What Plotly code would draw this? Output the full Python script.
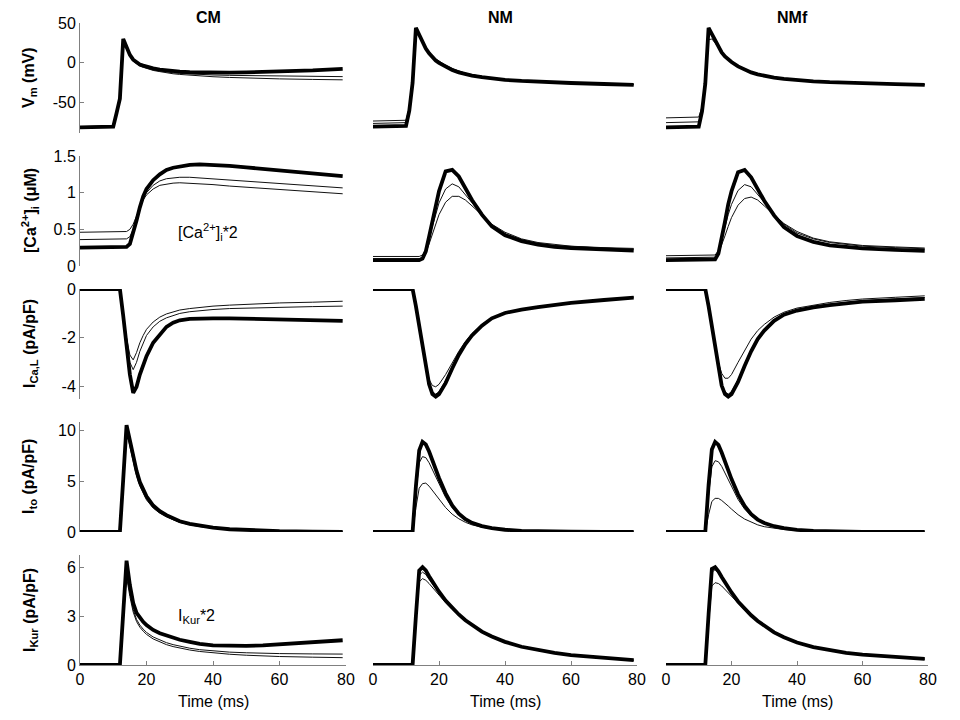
import plotly.graph_objects as go

# page body has an 8px margin, so the figure is drawn a bit smaller and offset
PAGE_OFF = 8
W, H = 944, 704

# time grid (ms) shared by all traces
T_MS = [0, 10, 11, 12, 13, 14, 15, 16, 17, 18, 19, 20, 22, 24, 26, 28, 30, 33, 36, 40, 45, 50, 55, 60, 70, 79]

COLUMNS = ["CM", "NM", "NMf"]

# each panel: [thick (baseline), thin, thin]
VM_CM = [
    [-81, -80, -63, -45, 30, 19, 10, 4, 1, -2, -3.5, -5, -7, -8.5, -9.5, -10.5, -11, -11.8, -12.2, -12.4, -12.3, -12, -11.5, -11, -9.5, -7.5],
    [-81, -80, -63, -45, 29, 18, 9, 3, 0, -3, -4.5, -6, -8.5, -10, -11.5, -12.5, -13.2, -14, -14.6, -15.2, -15.7, -16, -16.3, -16.6, -17, -17.3],
    [-80, -79, -62, -44, 28, 17, 8, 2, -1, -4, -5.5, -7, -9.5, -11, -12.5, -13.7, -14.5, -15.6, -16.5, -17.4, -18.3, -19, -19.6, -20.1, -20.8, -21.3],
]
VM_NM = [
    [-80, -79, -60, -25, 44, 35, 26, 18, 12, 7, 3, 0, -5, -9, -12, -14.5, -16, -18, -19.8, -21.3, -22.7, -23.8, -24.6, -25.3, -26.5, -27.5],
    [-76, -75, -58, -24, 43, 35, 26.5, 19, 13, 8, 4.5, 1.5, -3.5, -7.5, -10.8, -13.3, -15, -17.2, -19.1, -20.8, -22.3, -23.5, -24.4, -25.1, -26.4, -27.4],
    [-73, -72, -56, -23, 42, 34.5, 26, 19, 13.5, 8.5, 5, 2, -3, -7, -10.5, -13, -14.8, -17, -19, -20.7, -22.2, -23.4, -24.3, -25.1, -26.4, -27.4],
]
VM_NMF = [
    [-81, -80, -61, -26, 44, 36, 27, 19, 13, 8, 4, 1, -4.5, -8.5, -12, -14.5, -16.3, -18.5, -20.2, -21.8, -23.2, -24.3, -25.1, -25.8, -26.8, -27.5],
    [-69, -68, -55, -20, 29, 30, 25, 19, 13.5, 9, 5, 2, -3.5, -7.8, -11.2, -13.8, -15.8, -18.1, -19.9, -21.6, -23, -24.1, -25, -25.7, -26.7, -27.4],
    [-75, -74, -58, -23, 40, 35, 27, 19.5, 13.5, 8.5, 4.5, 1.5, -4, -8.2, -11.6, -14.2, -16, -18.3, -20, -21.7, -23.1, -24.2, -25, -25.7, -26.7, -27.4],
]

CA_CM = [
    [0.25, 0.25, 0.25, 0.25, 0.25, 0.26, 0.3, 0.45, 0.62, 0.8, 0.95, 1.05, 1.17, 1.25, 1.31, 1.34, 1.36, 1.38, 1.385, 1.38, 1.365, 1.345, 1.325, 1.305, 1.265, 1.225],
    [0.36, 0.36, 0.36, 0.36, 0.36, 0.37, 0.4, 0.5, 0.64, 0.8, 0.92, 1.0, 1.1, 1.16, 1.19, 1.205, 1.21, 1.21, 1.2, 1.19, 1.17, 1.155, 1.14, 1.125, 1.095, 1.065],
    [0.46, 0.46, 0.46, 0.46, 0.46, 0.47, 0.5, 0.57, 0.68, 0.8, 0.9, 0.97, 1.05, 1.1, 1.12, 1.13, 1.135, 1.13, 1.12, 1.11, 1.09, 1.075, 1.06, 1.045, 1.015, 0.985],
]
CA_NM = [
    [0.08, 0.08, 0.08, 0.08, 0.08, 0.08, 0.1, 0.2, 0.4, 0.62, 0.85, 1.02, 1.29, 1.31, 1.22, 1.06, 0.9, 0.7, 0.54, 0.42, 0.34, 0.29, 0.26, 0.245, 0.225, 0.21],
    [0.13, 0.13, 0.13, 0.13, 0.13, 0.13, 0.15, 0.22, 0.38, 0.55, 0.72, 0.86, 1.05, 1.12, 1.08, 0.97, 0.86, 0.7, 0.56, 0.44, 0.36, 0.31, 0.28, 0.265, 0.245, 0.23],
    [0.1, 0.1, 0.1, 0.1, 0.1, 0.1, 0.12, 0.18, 0.3, 0.44, 0.58, 0.7, 0.87, 0.95, 0.95, 0.9, 0.82, 0.69, 0.57, 0.46, 0.37, 0.32, 0.29, 0.27, 0.25, 0.24],
]
CA_NMF = [
    [0.08, 0.08, 0.08, 0.08, 0.08, 0.08, 0.09, 0.17, 0.36, 0.6, 0.84, 1.02, 1.28, 1.31, 1.21, 1.05, 0.89, 0.69, 0.53, 0.41, 0.33, 0.28, 0.255, 0.24, 0.22, 0.205],
    [0.14, 0.14, 0.14, 0.14, 0.14, 0.14, 0.15, 0.21, 0.36, 0.53, 0.7, 0.84, 1.03, 1.11, 1.08, 0.98, 0.87, 0.71, 0.57, 0.45, 0.37, 0.32, 0.29, 0.27, 0.25, 0.235],
    [0.11, 0.11, 0.11, 0.11, 0.11, 0.11, 0.12, 0.17, 0.28, 0.41, 0.54, 0.66, 0.83, 0.92, 0.94, 0.9, 0.82, 0.7, 0.58, 0.47, 0.38, 0.33, 0.3, 0.28, 0.26, 0.245],
]

ICAL_CM = [
    [0, 0, 0, 0, -1.1, -2.2, -3.5, -4.25, -4.0, -3.5, -3.1, -2.75, -2.2, -1.85, -1.55, -1.38, -1.28, -1.22, -1.2, -1.2, -1.2, -1.22, -1.24, -1.26, -1.28, -1.3],
    [0, 0, 0, 0, -1.0, -2.0, -2.7, -2.9, -2.6, -2.2, -1.9, -1.65, -1.35, -1.15, -1.02, -0.93, -0.86, -0.8, -0.75, -0.7, -0.66, -0.62, -0.6, -0.57, -0.54, -0.5],
    [0, 0, 0, 0, -1.05, -2.1, -3.0, -3.3, -3.0, -2.55, -2.2, -1.9, -1.55, -1.32, -1.18, -1.08, -1.0, -0.93, -0.88, -0.84, -0.8, -0.78, -0.76, -0.74, -0.72, -0.7],
]
ICAL_NM = [
    [0, 0, 0, 0, -0.7, -1.5, -2.3, -3.2, -3.9, -4.3, -4.4, -4.3, -3.85, -3.25, -2.7, -2.25, -1.9, -1.5, -1.2, -0.98, -0.84, -0.74, -0.65, -0.57, -0.45, -0.35],
    [0, 0, 0, 0, -0.7, -1.5, -2.3, -3.1, -3.7, -3.95, -4.0, -3.9, -3.5, -3.0, -2.55, -2.15, -1.82, -1.45, -1.18, -0.97, -0.83, -0.73, -0.64, -0.56, -0.44, -0.33],
    [0, 0, 0, 0, -0.7, -1.5, -2.3, -3.15, -3.85, -4.2, -4.3, -4.2, -3.75, -3.18, -2.65, -2.22, -1.87, -1.48, -1.19, -0.97, -0.83, -0.73, -0.64, -0.56, -0.44, -0.33],
]
ICAL_NMF = [
    [0, 0, 0, 0, -0.7, -1.5, -2.4, -3.3, -3.95, -4.3, -4.4, -4.3, -3.8, -3.15, -2.55, -2.05, -1.7, -1.3, -1.05, -0.88, -0.75, -0.66, -0.58, -0.52, -0.46, -0.4],
    [0, 0, 0, 0, -0.7, -1.5, -2.3, -3.0, -3.45, -3.65, -3.65, -3.5, -3.0, -2.5, -2.05, -1.7, -1.45, -1.15, -0.95, -0.78, -0.65, -0.55, -0.47, -0.41, -0.34, -0.28],
    [0, 0, 0, 0, -0.7, -1.5, -2.35, -3.25, -3.9, -4.2, -4.3, -4.2, -3.72, -3.08, -2.48, -2.0, -1.65, -1.26, -1.01, -0.84, -0.71, -0.62, -0.54, -0.48, -0.41, -0.35],
]

ITO_CM = [
    [0, 0, 0, 0, 5.2, 10.5, 9.0, 7.3, 6.0, 4.9, 4.1, 3.5, 2.6, 2.05, 1.65, 1.3, 1.05, 0.8, 0.6, 0.42, 0.27, 0.18, 0.12, 0.08, 0.04, 0.02],
    [0, 0, 0, 0, 5.0, 10.2, 8.6, 7.0, 5.7, 4.65, 3.9, 3.3, 2.45, 1.92, 1.55, 1.22, 0.98, 0.74, 0.56, 0.39, 0.25, 0.17, 0.11, 0.07, 0.03, 0.02],
    [0, 0, 0, 0, 4.9, 10.0, 8.4, 6.8, 5.5, 4.5, 3.75, 3.15, 2.35, 1.85, 1.48, 1.17, 0.94, 0.71, 0.53, 0.37, 0.24, 0.16, 0.1, 0.07, 0.03, 0.02],
]
ITO_NM = [
    [0, 0, 0, 0, 4.5, 8.0, 8.85, 8.6, 7.9, 7.0, 6.1, 5.3, 3.8, 2.6, 1.8, 1.25, 0.9, 0.58, 0.38, 0.22, 0.12, 0.07, 0.04, 0.03, 0.01, 0],
    [0, 0, 0, 0, 3.8, 6.8, 7.4, 7.3, 6.8, 6.1, 5.4, 4.7, 3.4, 2.4, 1.7, 1.2, 0.87, 0.56, 0.37, 0.22, 0.12, 0.07, 0.04, 0.03, 0.01, 0],
    [0, 0, 0, 0, 2.4, 4.3, 4.75, 4.8, 4.5, 4.1, 3.6, 3.2, 2.4, 1.75, 1.3, 0.95, 0.7, 0.47, 0.32, 0.2, 0.11, 0.06, 0.04, 0.02, 0.01, 0],
]
ITO_NMF = [
    [0, 0, 0, 0, 4.6, 8.1, 8.85, 8.55, 7.8, 6.9, 6.0, 5.2, 3.7, 2.55, 1.75, 1.22, 0.88, 0.57, 0.37, 0.21, 0.11, 0.06, 0.04, 0.02, 0.01, 0],
    [0, 0, 0, 0, 3.6, 6.4, 7.0, 6.9, 6.45, 5.8, 5.1, 4.45, 3.2, 2.25, 1.6, 1.12, 0.8, 0.52, 0.34, 0.2, 0.1, 0.06, 0.03, 0.02, 0.01, 0],
    [0, 0, 0, 0, 1.7, 3.0, 3.3, 3.3, 3.1, 2.85, 2.55, 2.25, 1.7, 1.27, 0.95, 0.7, 0.52, 0.35, 0.24, 0.15, 0.08, 0.05, 0.03, 0.02, 0.01, 0],
]

IKUR_CM = [
    [0, 0, 0, 0, 3.2, 6.4, 4.9, 3.8, 3.2, 2.9, 2.65, 2.45, 2.15, 1.95, 1.8, 1.66, 1.55, 1.42, 1.3, 1.2, 1.16, 1.17, 1.2, 1.26, 1.38, 1.52],
    [0, 0, 0, 0, 2.8, 5.6, 4.4, 3.4, 2.8, 2.45, 2.2, 2.0, 1.72, 1.52, 1.37, 1.25, 1.15, 1.03, 0.94, 0.86, 0.79, 0.75, 0.72, 0.7, 0.68, 0.67],
    [0, 0, 0, 0, 2.7, 5.4, 4.2, 3.25, 2.67, 2.32, 2.08, 1.88, 1.6, 1.4, 1.25, 1.13, 1.04, 0.92, 0.83, 0.74, 0.66, 0.6, 0.55, 0.52, 0.48, 0.45],
]
IKUR_NM = [
    [0, 0, 0, 0, 3.0, 5.8, 6.0, 5.8, 5.45, 5.1, 4.8, 4.5, 3.95, 3.5, 3.1, 2.75, 2.45, 2.05, 1.75, 1.42, 1.12, 0.9, 0.74, 0.6, 0.42, 0.3],
    [0, 0, 0, 0, 2.9, 5.5, 5.7, 5.55, 5.25, 4.95, 4.68, 4.42, 3.9, 3.46, 3.07, 2.73, 2.43, 2.04, 1.74, 1.41, 1.11, 0.9, 0.73, 0.6, 0.42, 0.3],
    [0, 0, 0, 0, 2.7, 5.1, 5.3, 5.2, 5.0, 4.75, 4.52, 4.3, 3.82, 3.4, 3.03, 2.7, 2.41, 2.02, 1.73, 1.4, 1.1, 0.89, 0.73, 0.59, 0.41, 0.29],
]
IKUR_NMF = [
    [0, 0, 0, 0, 3.1, 5.9, 6.0, 5.75, 5.4, 5.05, 4.75, 4.45, 3.9, 3.45, 3.05, 2.7, 2.4, 2.0, 1.7, 1.38, 1.1, 0.9, 0.75, 0.63, 0.48, 0.37],
    [0, 0, 0, 0, 2.6, 4.85, 5.05, 5.0, 4.85, 4.65, 4.45, 4.25, 3.8, 3.38, 3.0, 2.67, 2.38, 1.98, 1.69, 1.37, 1.09, 0.89, 0.74, 0.62, 0.47, 0.36],
    [0, 0, 0, 0, 3.0, 5.7, 5.85, 5.65, 5.32, 5.0, 4.7, 4.42, 3.88, 3.43, 3.04, 2.69, 2.39, 1.99, 1.7, 1.38, 1.1, 0.9, 0.75, 0.63, 0.48, 0.37],
]

ROW_LABELS = [
    "V<sub>m</sub> (mV)",
    "[Ca<sup>2+</sup>]<sub>i</sub> (\u03bcM)",
    "I<sub>Ca,L</sub> (pA/pF)",
    "I<sub>to</sub> (pA/pF)",
    "I<sub>Kur</sub> (pA/pF)",
]
ROW_RANGES = [[-88, 50], [0, 1.5], [-4.5, 0], [0, 10.8], [0, 6.75]]
ROW_TICKS = [[-50, 0, 50], [0, 0.5, 1, 1.5], [-4, -2, 0], [0, 5, 10], [0, 3, 6]]
ROW_TICKTEXT = [["-50", "0", "50"], ["0", "0.5", "1", "1.5"], ["-4", "-2", "0"], ["0", "5", "10"], ["0", "3", "6"]]
X_TICKS = [0, 20, 40, 60, 80]
PANELS = [
    [VM_CM, VM_NM, VM_NMF],
    [CA_CM, CA_NM, CA_NMF],
    [ICAL_CM, ICAL_NM, ICAL_NMF],
    [ITO_CM, ITO_NM, ITO_NMF],
    [IKUR_CM, IKUR_NM, IKUR_NMF],
]

# pixel geometry of the subplot grid (screen pixels)
COL_PX = [(80, 346), (373, 637), (666, 928)]
ROW_PX = [(23, 133), (156, 266), (289, 399), (422, 532), (555, 665)]

FONT = "Arial, Liberation Sans, sans-serif"
AXIS_GRAY = "#808080"


def px_x(p):
    return (p - PAGE_OFF) / W


def px_y(p):
    return 1 - (p - PAGE_OFF) / H


fig = go.Figure()
layout = dict(
    width=W, height=H,
    margin=dict(l=0, r=0, t=0, b=0, autoexpand=False),
    paper_bgcolor="white", plot_bgcolor="white",
    showlegend=False,
    font=dict(family=FONT, size=15, color="black"),
)
annotations = []

for r in range(5):
    for c in range(3):
        n = r * 3 + c + 1
        sfx = "" if n == 1 else str(n)
        series = PANELS[r][c]
        # thin lines first, thick baseline on top
        for k in (2, 1):
            fig.add_trace(go.Scatter(
                x=T_MS, y=series[k], mode="lines",
                line=dict(color="#111111", width=1),
                xaxis="x" + sfx, yaxis="y" + sfx, hoverinfo="skip",
            ))
        fig.add_trace(go.Scatter(
            x=T_MS, y=series[0], mode="lines",
            line=dict(color="black", width=3.8),
            xaxis="x" + sfx, yaxis="y" + sfx, hoverinfo="skip",
        ))

        x0, x1 = COL_PX[c]
        y0, y1 = ROW_PX[r]
        bottom = r == 4
        left = c == 0
        layout["xaxis" + sfx] = dict(
            domain=[px_x(x0), px_x(x1)], range=[0, 80], anchor="y" + sfx,
            visible=bottom, showgrid=False, zeroline=False, automargin=False,
            showline=True, linecolor=AXIS_GRAY, linewidth=1,
            ticks="inside", ticklen=4, tickcolor=AXIS_GRAY,
            tickvals=X_TICKS, tickfont=dict(size=16, family=FONT, color="black"),
        )
        layout["yaxis" + sfx] = dict(
            domain=[px_y(y1), px_y(y0)], range=ROW_RANGES[r], anchor="x" + sfx,
            visible=left, showgrid=False, zeroline=False, automargin=False,
            showline=True, linecolor=AXIS_GRAY, linewidth=1,
            ticks="inside", ticklen=4, tickcolor=AXIS_GRAY,
            tickvals=ROW_TICKS[r], ticktext=ROW_TICKTEXT[r],
            tickfont=dict(size=16, family=FONT, color="black"),
        )

# column titles (kept inside the figure top edge) and x-axis titles
for c, name in enumerate(COLUMNS):
    x0, x1 = COL_PX[c]
    annotations.append(dict(
        text="<b>%s</b>" % name, xref="paper", yref="paper",
        x=px_x((x0 + x1) / 2 - 5), y=1, showarrow=False,
        font=dict(size=16, family=FONT), xanchor="center", yanchor="top",
        borderpad=0,
    ))
    annotations.append(dict(
        text="Time (ms)", xref="paper", yref="paper",
        x=px_x((x0 + x1) / 2), y=px_y(701), showarrow=False,
        font=dict(size=16, family=FONT), xanchor="center", yanchor="middle",
    ))

# row labels
for r, lab in enumerate(ROW_LABELS):
    y0, y1 = ROW_PX[r]
    annotations.append(dict(
        text="<b>%s</b>" % lab, xref="paper", yref="paper",
        x=px_x(30), y=px_y((y0 + y1) / 2), textangle=-90, showarrow=False,
        font=dict(size=16, family=FONT), xanchor="center", yanchor="middle",
    ))

# scaling notes inside CM panels
annotations.append(dict(
    text="[Ca<sup>2+</sup>]<sub>i</sub>*2", xref="x4", yref="y4",
    x=29, y=0.46, showarrow=False, xanchor="left", yanchor="middle",
    font=dict(size=16, family=FONT),
))
annotations.append(dict(
    text="I<sub>Kur</sub>*2", xref="x13", yref="y13",
    x=29, y=2.95, showarrow=False, xanchor="left", yanchor="middle",
    font=dict(size=16, family=FONT),
))

layout["annotations"] = annotations
fig.update_layout(**layout)
fig.write_html("out.html")
